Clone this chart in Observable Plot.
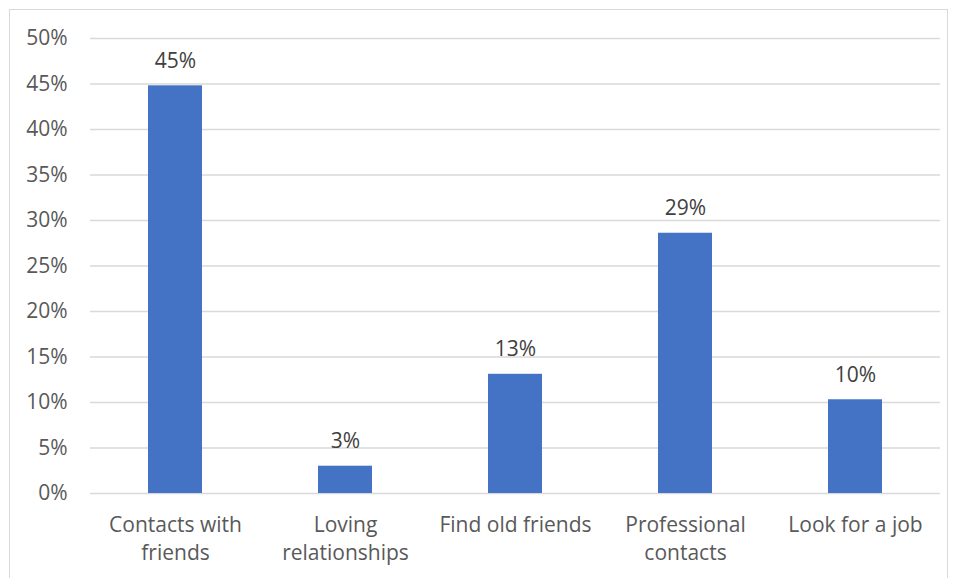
<!DOCTYPE html>
<html>
<head>
<meta charset="utf-8">
<script src="https://cdn.jsdelivr.net/npm/d3@7"></script>
<script src="https://cdn.jsdelivr.net/npm/@observablehq/plot@0.6"></script>
<style>
  html, body { margin: 0; padding: 0; background: #fff; }
  #wrap { position: relative; width: 956px; height: 578px; overflow: hidden; }
  #frame { position: absolute; left: 9px; top: 9px; width: 939px; height: 600px; border: 1px solid #d9d9d9; box-sizing: border-box; }
  #chart { position: absolute; left: 0; top: 0; }
</style>
</head>
<body>
<div id="wrap"><div id="frame"></div><div id="chart"></div></div>
<script>
const categories = ["Contacts with\nfriends", "Loving\nrelationships", "Find old friends", "Professional\ncontacts", "Look for a job"];
const values = [0.448, 0.030, 0.131, 0.286, 0.103];
const labels = ["45%", "3%", "13%", "29%", "10%"];
const yTicks = [0, 0.05, 0.10, 0.15, 0.20, 0.25, 0.30, 0.35, 0.40, 0.45, 0.50];

const data = categories.map((c, i) => ({category: c, value: values[i], label: labels[i]}));
const fmt = d => Math.round(d * 100) + "%";

const chart = Plot.plot({
  width: 956,
  height: 578,
  marginLeft: 90,
  marginRight: 16,
  marginTop: 38,
  marginBottom: 85,
  style: {fontFamily: "'Open Sans', sans-serif", fontSize: "21px", color: "#595959", background: "transparent"},
  x: {domain: categories, paddingInner: 0.682, paddingOuter: 0.341, label: null},
  y: {domain: [0, 0.5], ticks: yTicks, tickFormat: fmt, label: null},
  marks: [
    Plot.ruleY(yTicks, {stroke: "#d9d9d9", strokeWidth: 1.5}),
    Plot.barY(data, {x: "category", y: "value", fill: "#4472C4"}),
    Plot.text(data, {x: "category", y: "value", text: "label", dy: -25, fill: "#404040", fontSize: 21}),
    Plot.axisY({ticks: yTicks, tickFormat: fmt, tickSize: 0, tickPadding: 23, label: null, fontSize: 21}),
    Plot.axisX({tickSize: 0, tickPadding: 19, label: null, fontSize: 21, lineHeight: 1.33})
  ]
});
document.getElementById("chart").appendChild(chart);
</script>
</body>
</html>
